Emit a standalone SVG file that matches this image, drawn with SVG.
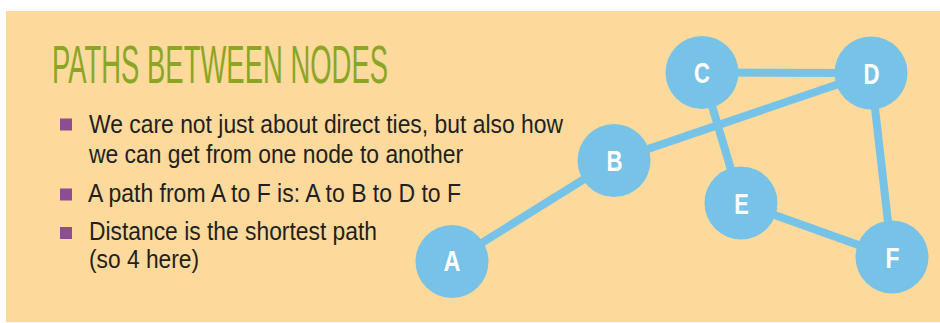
<svg xmlns="http://www.w3.org/2000/svg" width="940" height="323" viewBox="0 0 940 323">
  <defs>
    <style>
      .panel { fill: #fdd99c; }
      .title { font-family: "Liberation Sans", Arial, sans-serif; font-size: 54px; fill: #8ba624; }
      .body { font-family: "Liberation Sans", Arial, sans-serif; font-size: 26px; fill: #231f20; }
      .bullet { fill: #8d4e91; }
      .edge { stroke: #77c3e8; stroke-width: 8; fill: none; }
      .node circle { fill: #77c3e8; }
      .node text { font-family: "Liberation Sans", Arial, sans-serif; font-size: 29px; font-weight: bold; fill: #ffffff; text-anchor: middle; }
    </style>
  </defs>

  <!-- page background and panel -->
  <rect x="0" y="0" width="940" height="323" fill="#ffffff"/>
  <rect class="panel" x="6" y="11" width="934" height="311"/>

  <!-- heading, squeezed horizontally into a condensed look -->
  <text class="title" transform="translate(52 83) scale(0.5 1)" x="0" y="0" textLength="672" lengthAdjust="spacingAndGlyphs">PATHS BETWEEN NODES</text>

  <!-- bullet list -->
  <g id="bullets">
    <rect class="bullet" x="60" y="118.5" width="12" height="12"/>
    <text class="body" x="89" y="132.5" textLength="474" lengthAdjust="spacingAndGlyphs">We care not just about direct ties, but also how</text>
    <text class="body" x="89" y="163" textLength="374" lengthAdjust="spacingAndGlyphs">we can get from one node to another</text>
    <rect class="bullet" x="60" y="188.5" width="12" height="12"/>
    <text class="body" x="88" y="201.5" textLength="373" lengthAdjust="spacingAndGlyphs">A path from A to F is: A to B to D to F</text>
    <rect class="bullet" x="60" y="227" width="12" height="12"/>
    <text class="body" x="89" y="240" textLength="288" lengthAdjust="spacingAndGlyphs">Distance is the shortest path</text>
    <text class="body" x="89" y="268" textLength="110" lengthAdjust="spacingAndGlyphs">(so 4 here)</text>
  </g>

  <!-- connectors -->
  <g id="edges">
    <line class="edge" x1="452" y1="261.5" x2="614" y2="160.5"/>
    <line class="edge" x1="614" y1="160.5" x2="871" y2="73"/>
    <line class="edge" x1="702" y1="72.5" x2="871" y2="73"/>
    <line class="edge" x1="702" y1="72.5" x2="741" y2="203"/>
    <line class="edge" x1="871" y1="73" x2="892" y2="257"/>
    <line class="edge" x1="741" y1="203" x2="892" y2="257"/>
  </g>

  <!-- nodes -->
  <g id="node-A" class="node">
    <circle cx="452" cy="261.5" r="36.5"/>
    <text x="452" y="271" textLength="17" lengthAdjust="spacingAndGlyphs">A</text>
  </g>
  <g id="node-B" class="node">
    <circle cx="614" cy="160.5" r="36.5"/>
    <text x="614.5" y="171" textLength="16" lengthAdjust="spacingAndGlyphs">B</text>
  </g>
  <g id="node-C" class="node">
    <circle cx="702" cy="72.5" r="36.5"/>
    <text x="702" y="83" textLength="16" lengthAdjust="spacingAndGlyphs">C</text>
  </g>
  <g id="node-D" class="node">
    <circle cx="871" cy="73" r="36.5"/>
    <text x="871.5" y="83.5" textLength="16" lengthAdjust="spacingAndGlyphs">D</text>
  </g>
  <g id="node-E" class="node">
    <circle cx="741" cy="203" r="36.5"/>
    <text x="741.5" y="213.5" textLength="14.5" lengthAdjust="spacingAndGlyphs">E</text>
  </g>
  <g id="node-F" class="node">
    <circle cx="892" cy="257" r="36.5"/>
    <text x="892.5" y="267.5" textLength="14" lengthAdjust="spacingAndGlyphs">F</text>
  </g>
</svg>
